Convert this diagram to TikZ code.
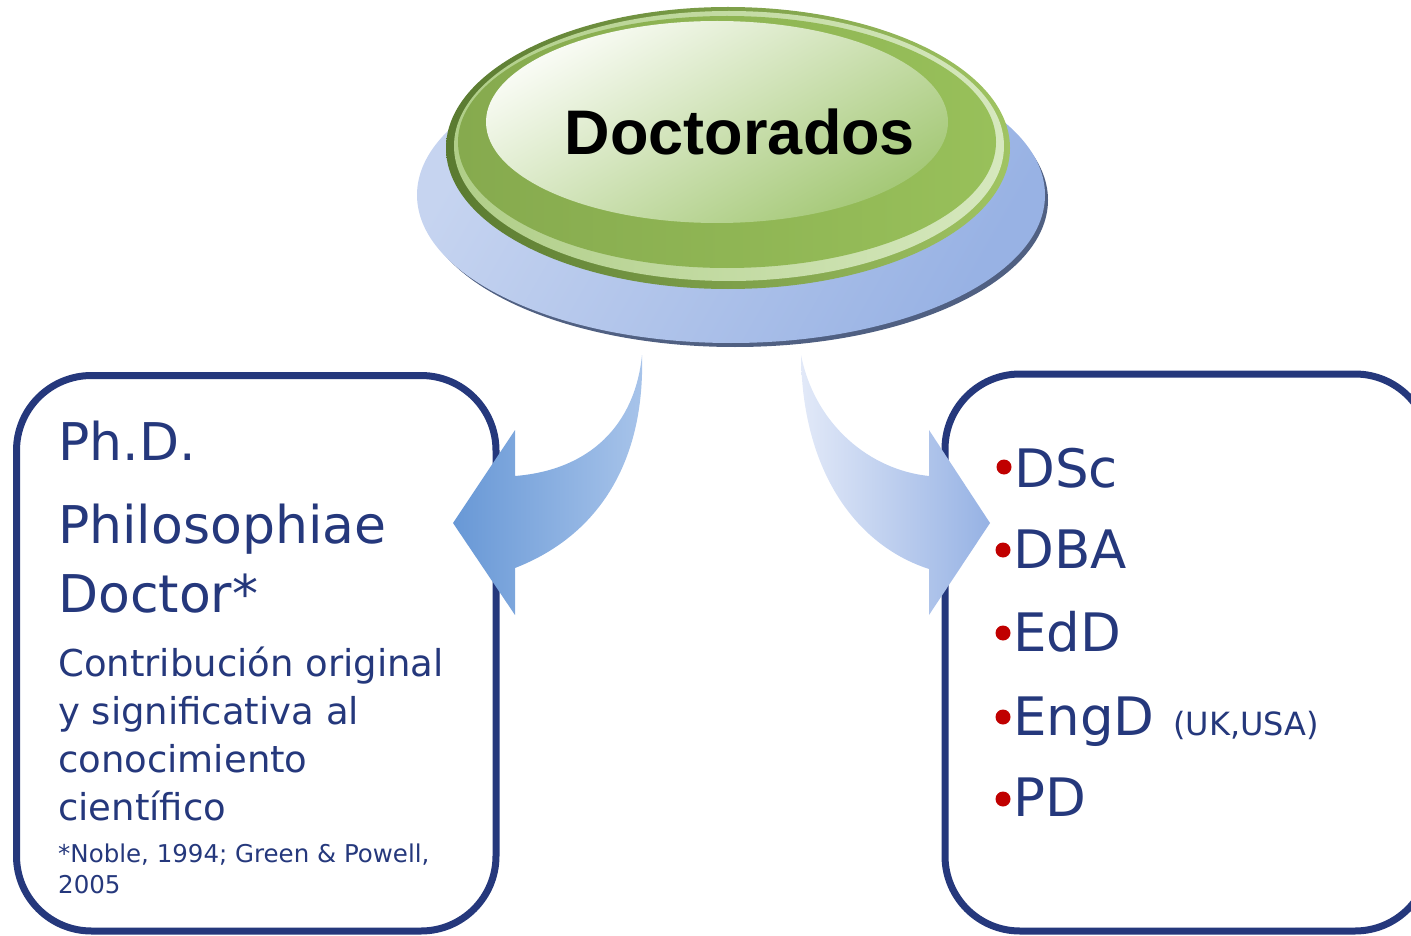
\documentclass[tikz,border=0pt]{standalone}
\usepackage{fontspec}
\setmainfont{DejaVu Sans}
\newfontfamily\titlefont{Liberation Sans}
\definecolor{navy}{RGB}{37,56,124}
\definecolor{bulletred}{RGB}{192,0,0}
\definecolor{shadowblue}{RGB}{80,96,130}
\definecolor{baseblueA}{RGB}{198,212,240}
\definecolor{baseblueB}{RGB}{152,178,228}
\definecolor{rimdark}{RGB}{90,122,48}
\definecolor{rimlight}{RGB}{160,196,98}
\definecolor{ringA}{RGB}{176,206,136}
\definecolor{ringB}{RGB}{214,232,190}
\definecolor{bodyA}{RGB}{134,170,78}
\definecolor{bodyB}{RGB}{152,192,90}
\definecolor{hiA}{RGB}{250,252,246}
\definecolor{hiB}{RGB}{164,200,118}
\definecolor{arrLa}{RGB}{104,152,214}
\definecolor{arrLb}{RGB}{168,196,234}
\definecolor{arrRa}{RGB}{226,233,248}
\definecolor{arrRb}{RGB}{150,178,228}
\tikzset{
  card/.style={draw=navy, line width=7pt, rounded corners=75pt, fill=white},
  bigtxt/.style={anchor=base west, inner sep=0pt, text=navy, font=\fontsize{52}{60}\selectfont},
  midtxt/.style={anchor=base west, inner sep=0pt, text=navy, font=\fontsize{37}{44}\selectfont},
  smalltxt/.style={anchor=base west, inner sep=0pt, text=navy, font=\fontsize{24.5}{30}\selectfont},
  itemtxt/.style={anchor=base west, inner sep=0pt, text=navy, font=\fontsize{53}{60}\selectfont},
  dot/.style={circle, fill=bulletred, inner sep=0pt, minimum size=15pt},
}
\begin{document}
\begin{tikzpicture}[x=1pt,y=-1pt]
\useasboundingbox (0,0) rectangle (1411,936);
\clip (0,0) rectangle (1411,936);
% --- central button ---
\fill[shadowblue] (735,200) ellipse [x radius=313, y radius=147];
\shade[shading=axis, left color=baseblueA, right color=baseblueB, shading angle=60] (731,195) ellipse [x radius=314, y radius=148];
\shade[left color=rimdark, right color=rimlight] (728,148) ellipse [x radius=282, y radius=141];
\shade[left color=ringA, right color=ringB] (729,146) ellipse [x radius=275, y radius=135];
\shade[left color=bodyA, right color=bodyB] (727,142) ellipse [x radius=269, y radius=126];
\shade[shading=axis, top color=hiA, bottom color=hiB, shading angle=30] (717,122) ellipse [x radius=231, y radius=101];
\node[inner sep=0pt, anchor=base, font=\titlefont\bfseries\fontsize{63}{70}\selectfont] (title) at (740,155) {Doctorados};
% --- boxes ---
\draw[card] (16.5,375.5) rectangle (496,931);
\draw[card] (945,374) rectangle (1430,931);
% --- arrows ---
\shade[left color=arrLa, right color=arrLb]
  (642,355) .. controls (645,460) and (600,535) .. (515,568)
  -- (515,615) -- (453,523) -- (515,430) -- (515,476)
  .. controls (590,470) and (635,425) .. (642,355) -- cycle;
\shade[left color=arrRa, right color=arrRb]
  (801,355) .. controls (802,470) and (855,545) .. (929,569)
  -- (929,615) -- (990,523) -- (929,430) -- (929,476)
  .. controls (870,470) and (815,425) .. (801,355) -- cycle;
% --- left text ---
\node[bigtxt] (phd) at (58,460) {Ph.D.};
\node[bigtxt] (philo) at (58,543) {Philosophiae};
\node[bigtxt] (doctor) at (58,612) {Doctor*};
\node[midtxt] (c1) at (58,676) {Contribución original};
\node[midtxt] (c2) at (58,724) {y significativa al};
\node[midtxt] (c3) at (58,772) {conocimiento};
\node[midtxt] (c4) at (58,820) {científico};
\node[smalltxt] (r1) at (58,862) {*Noble, 1994; Green \& Powell,};
\node[smalltxt] (r2) at (58,893) {2005};
% --- right list ---
\node[dot] (b1) at (1004,467) {};
\node[itemtxt] (i1) at (1014,487) {DSc};
\node[dot] (b2) at (1003,550) {};
\node[itemtxt] (i2) at (1013,568) {DBA};
\node[dot] (b3) at (1003,633) {};
\node[itemtxt] (i3) at (1013,651) {EdD};
\node[dot] (b4) at (1003,717) {};
\node[itemtxt] (i4) at (1013,735) {EngD};
\node[anchor=base west, inner sep=0pt, text=navy, font=\fontsize{32}{36}\selectfont] (uk) at (1173,735) {(UK,USA)};
\node[dot] (b5) at (1003,799) {};
\node[itemtxt] (i5) at (1013,816) {PD};
\end{tikzpicture}
\end{document}
